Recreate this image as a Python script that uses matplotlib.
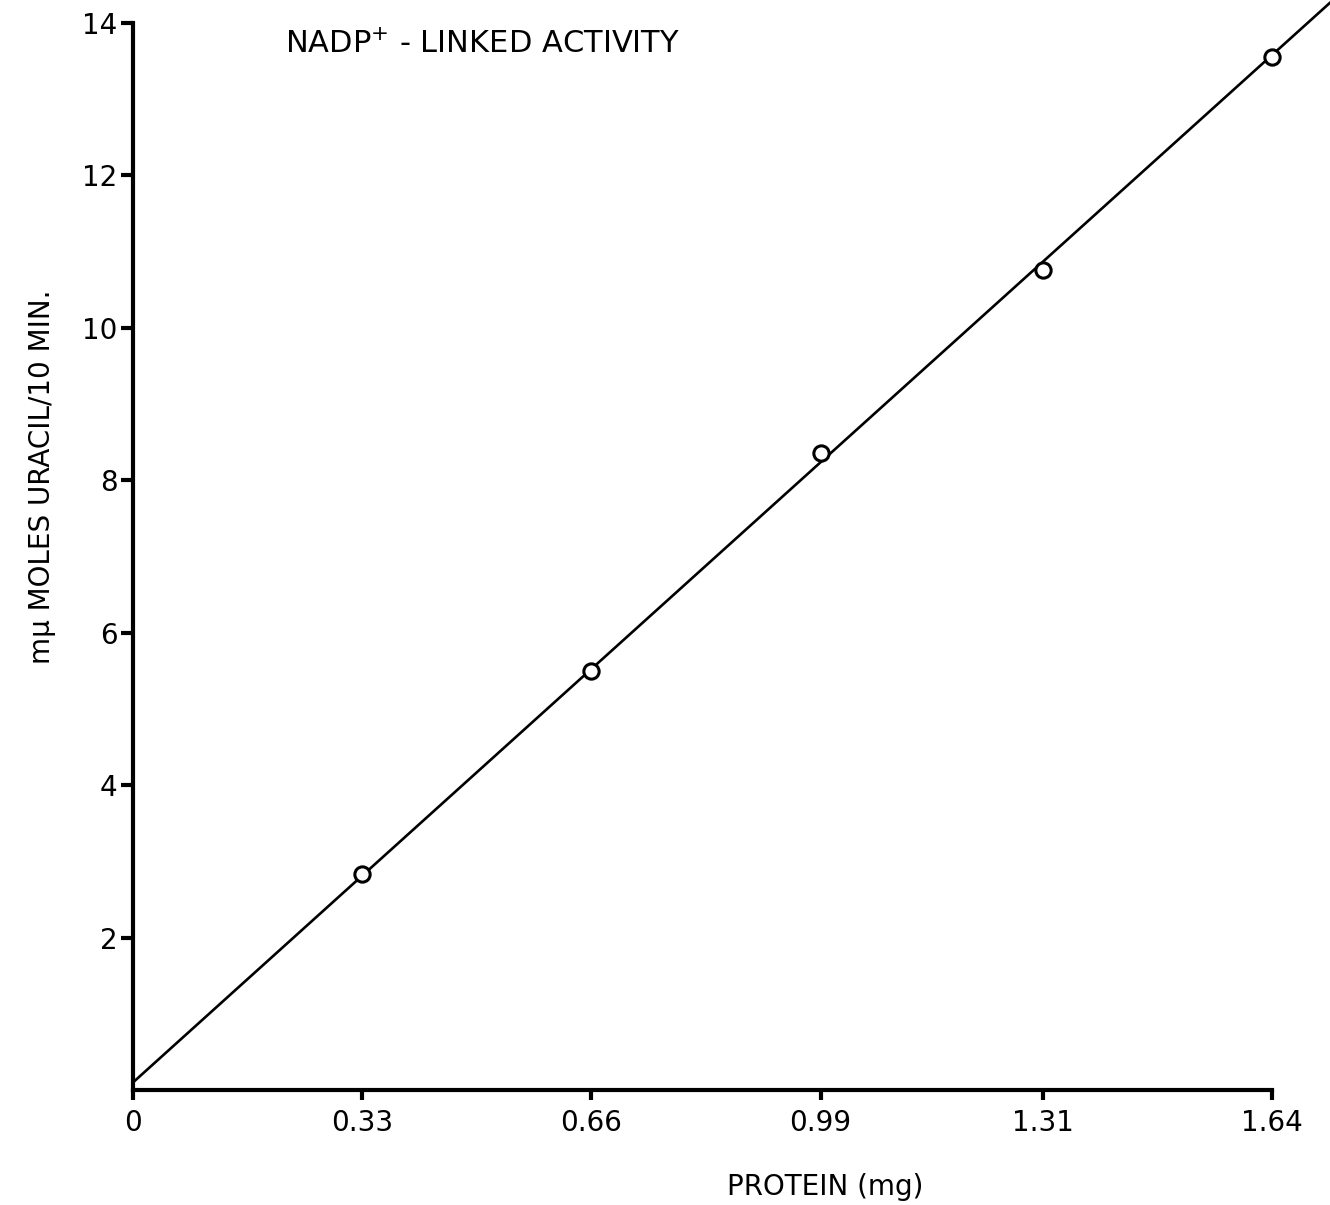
import matplotlib
matplotlib.use('Agg')
import matplotlib.pyplot as plt

# measured points
protein = [0.33, 0.66, 0.99, 1.31, 1.64]
uracil = [2.84, 5.50, 8.36, 10.76, 13.55]

# drawn line (runs past the axes to the top right corner)
line_x = [0.0, 1.724]
line_y = [0.1, 14.27]

x_ticks = [0, 0.33, 0.66, 0.99, 1.31, 1.64]
x_labels = ['0', '0.33', '0.66', '0.99', '1.31', '1.64']
y_ticks = [2, 4, 6, 8, 10, 12, 14]

plt.rcParams['font.family'] = ['DejaVu Sans']

fig = plt.figure(figsize=(13.3, 12.05), dpi=100)
ax = fig.add_axes([0.1, 0.0954, 0.8564, 0.8855])

ax.plot(line_x, line_y, color='black', lw=1.9, clip_on=False, zorder=3)
ax.plot(protein, uracil, 'o', ms=11, mfc='white', mec='black', mew=2.2,
        clip_on=False, zorder=4)

ax.set_xlim(0, 1.64)
ax.set_ylim(0, 14)

for s in ['top', 'right']:
    ax.spines[s].set_visible(False)
for s in ['left', 'bottom']:
    ax.spines[s].set_linewidth(3)

ax.set_xticks(x_ticks)
ax.set_xticklabels(x_labels)
ax.set_yticks(y_ticks)
ax.tick_params(axis='x', direction='out', length=7, width=3, labelsize=20, pad=7)
ax.tick_params(axis='y', direction='out', length=9, width=3, labelsize=20, pad=2)

ax.set_xlabel('PROTEIN (mg)', fontsize=20)
ax.xaxis.set_label_coords(0.608, -0.078)
ax.set_ylabel('m\u03bc MOLES URACIL/10 MIN.', fontsize=20)
ax.yaxis.set_label_coords(-0.068, 0.575)

ax.text(0.219, 13.72, 'NADP$^{+}$ - LINKED ACTIVITY', fontsize=22,
        va='center', ha='left')

fig.savefig('out.png', dpi=100)
